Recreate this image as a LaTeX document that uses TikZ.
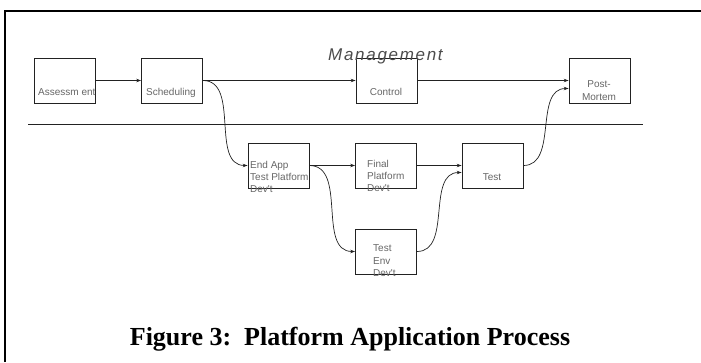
\documentclass[tikz,border=0pt]{standalone}
\usepackage{fontspec}
\setmainfont{Liberation Serif}
\newfontfamily\boxfont{Liberation Sans}
\newfontfamily\mgmtfont[LetterSpace=10]{Liberation Sans}
\usetikzlibrary{arrows.meta}
\definecolor{lineclr}{HTML}{222222}
\definecolor{txtclr}{HTML}{666666}
\begin{document}
\begin{tikzpicture}[x=1pt, y=-1pt,
  box/.style={draw=lineclr, line width=0.8pt, minimum width=61pt, minimum height=45pt, inner sep=0pt},
  lbl/.style={font=\boxfont\fontsize{10}{12.3}\selectfont, text=txtclr, inner sep=0pt},
  flow/.style={draw=lineclr, line width=0.7pt, -{Stealth[length=5pt,width=3.5pt]}}]
  \useasboundingbox (0,0) rectangle (701,362);
  \draw[line width=2pt, black] (5,362) -- (5,11) -- (701,11);
  \draw[line width=0.8pt, lineclr] (28,124) -- (643,124);
  \node[box] (assess) at (65,80.5) {};
  \node[box] (sched) at (172,80.5) {};
  \node[box] (control) at (386.5,80.5) {};
  \node[box] (post) at (599.5,80.5) {};
  \node[box] (endapp) at (278.5,165.5) {};
  \node[box] (final) at (386,165.5) {};
  \node[box] (test) at (492.5,165.5) {};
  \node[box] (env) at (386,251.5) {};
  \node[lbl, anchor=base west] (assesstxt) at (38,95) {Assessm ent};
  \node[lbl, anchor=base west] (schedtxt) at (146,95) {Scheduling};
  \node[lbl, anchor=base] (controltxt) at (386,95) {Control};
  \node[lbl, anchor=north, align=center] (posttxt) at (599,80.7) {Post-\\Mortem};
  \node[lbl, anchor=north west, align=left] (endapptxt) at (250,160.7) {End App\\Test Platform\\Dev't};
  \node[lbl, anchor=north west, align=left] (finaltxt) at (367,159.7) {Final\\Platform\\Dev't};
  \node[lbl, anchor=north west, align=left] (envtxt) at (373,244.7) {Test\\Env\\Dev't};
  \node[lbl, anchor=base] (testtxt) at (492,180) {Test};
  \node[font=\mgmtfont\fontsize{17}{20}\selectfont\itshape, text=black!70, anchor=base west, inner sep=0pt] (mgmt) at (328,60) {Management};
  \draw[flow] (assess.east) -- (sched.west);
  \draw[flow] (sched.east) -- (control.west);
  \draw[flow] (control.east) -- (post.west);
  \draw[flow] (sched.east) to[out=0, in=180] (endapp.west);
  \draw[flow] (endapp.east) -- (final.west);
  \draw[flow] (endapp.east) to[out=0, in=180] (env.west);
  \draw[flow] (final.east) -- (test.west);
  \draw[flow] (env.east) to[out=0, in=180] ([yshift=-7pt]test.west);
  \draw[flow] (test.east) to[out=0, in=180] ([yshift=-8pt]post.west);
  \node[font=\fontsize{26}{30}\selectfont\bfseries, anchor=base, inner sep=0pt] (caption) at (350,345) {Figure 3:\ \ Platform Application Process};
\end{tikzpicture}
\end{document}
